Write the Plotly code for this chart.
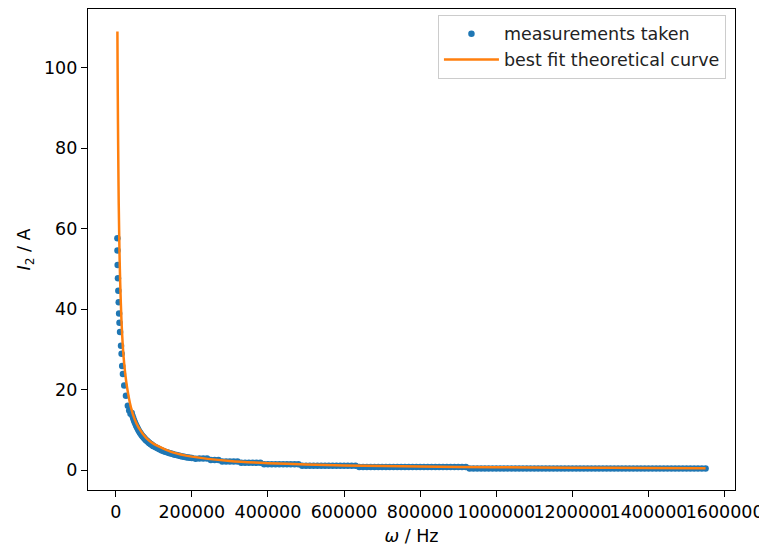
import plotly.graph_objects as go

meas_omega = [
    4500, 4700, 5200, 6000, 7000, 8000, 9000, 10000, 11500, 14000, 15500, 17000,
    19000, 22500, 27000, 32000, 35500, 39000,
    42000, 44000, 46000, 48000, 50000, 52000, 54000, 56000, 58000, 60000,
    62000, 64000, 66000, 68000, 70000, 72000, 74000, 76000, 78000, 80000,
    82000, 84000, 86000, 88000, 90000, 92000, 94000, 96000, 98000, 100000,
    105000, 110000, 115000, 120000, 125000, 130000, 135000, 140000, 145000, 150000,
    155000, 160000, 165000, 170000, 175000, 180000, 185000, 190000, 195000, 200000,
    210000, 220000, 230000, 240000, 250000, 260000, 270000, 280000, 290000, 300000,
    310000, 320000, 330000, 340000, 350000, 360000, 370000, 380000, 390000, 400000,
    410000, 420000, 430000, 440000, 450000, 460000, 470000, 480000, 490000, 500000,
    510000, 520000, 530000, 540000, 550000, 560000, 570000, 580000, 590000, 600000,
    610000, 620000, 630000, 640000, 650000, 660000, 670000, 680000, 690000, 700000,
    710000, 720000, 730000, 740000, 750000, 760000, 770000, 780000, 790000, 800000,
    810000, 820000, 830000, 840000, 850000, 860000, 870000, 880000, 890000, 900000,
    910000, 920000, 930000, 940000, 950000, 960000, 970000, 980000, 990000, 1000000,
    1010000, 1020000, 1030000, 1040000, 1050000, 1060000, 1070000, 1080000, 1090000, 1100000,
    1110000, 1120000, 1130000, 1140000, 1150000, 1160000, 1170000, 1180000, 1190000, 1200000,
    1210000, 1220000, 1230000, 1240000, 1250000, 1260000, 1270000, 1280000, 1290000, 1300000,
    1310000, 1320000, 1330000, 1340000, 1350000, 1360000, 1370000, 1380000, 1390000, 1400000,
    1410000, 1420000, 1430000, 1440000, 1450000, 1460000, 1470000, 1480000, 1490000, 1500000,
    1510000, 1520000, 1530000, 1540000, 1550000,
]
meas_current = [
    57.6, 54.6, 51.0, 47.7, 44.6, 41.7, 38.9, 36.6, 34.3, 30.9, 28.9, 25.9,
    23.9, 21.0, 18.5, 16.0, 14.8, 14.0,
    14.17, 13.52, 12.93, 12.40, 11.90, 11.44, 11.02, 10.63, 10.26, 9.92,
    9.60, 9.30, 9.02, 8.75, 8.50, 8.26, 8.04, 7.83, 7.63, 7.44,
    7.26, 7.08, 6.92, 6.76, 6.61, 6.47, 6.33, 6.20, 6.07, 5.95,
    5.67, 5.41, 5.17, 4.96, 4.76, 4.58, 4.41, 4.25, 4.10, 3.97,
    3.84, 3.72, 3.61, 3.50, 3.40, 3.31, 3.22, 3.13, 3.05, 2.98,
    2.83, 2.86, 2.86, 2.86, 2.50, 2.50, 2.50, 2.15, 2.15, 2.15,
    2.15, 2.15, 1.80, 1.80, 1.80, 1.80, 1.80, 1.80, 1.45, 1.45,
    1.45, 1.45, 1.45, 1.45, 1.45, 1.45, 1.45, 1.45, 1.10, 1.10,
    1.10, 1.10, 1.10, 1.10, 1.10, 1.10, 1.10, 1.10, 1.10, 1.10,
    1.10, 1.10, 1.10, 0.75, 0.75, 0.75, 0.75, 0.75, 0.75, 0.75,
    0.75, 0.75, 0.75, 0.75, 0.75, 0.75, 0.75, 0.75, 0.75, 0.75,
    0.75, 0.75, 0.75, 0.75, 0.75, 0.75, 0.75, 0.75, 0.75, 0.75,
    0.75, 0.75, 0.42, 0.42, 0.42, 0.42, 0.42, 0.42, 0.42, 0.42,
    0.42, 0.42, 0.42, 0.42, 0.42, 0.42, 0.42, 0.42, 0.42, 0.42,
    0.42, 0.42, 0.42, 0.42, 0.42, 0.42, 0.42, 0.42, 0.42, 0.42,
    0.42, 0.42, 0.42, 0.42, 0.42, 0.42, 0.42, 0.42, 0.42, 0.42,
    0.42, 0.42, 0.42, 0.42, 0.42, 0.42, 0.42, 0.42, 0.42, 0.42,
    0.42, 0.42, 0.42, 0.42, 0.42, 0.42, 0.42, 0.42, 0.42, 0.42,
    0.42, 0.42, 0.42, 0.42, 0.42,
]

# ---- best fit theoretical curve ----
fit_omega = [4500, 5000, 6000, 7000, 8000, 10000, 12000, 15000, 20000, 25000,
             30000, 40000, 50000, 60000, 80000, 100000, 150000, 200000, 300000,
             400000, 500000, 600000, 800000, 1000000, 1200000, 1400000, 1550000]
fit_current = [109.0, 100.0, 86.0, 75.0, 66.0, 54.0, 46.0, 37.5, 29.0, 24.0,
               20.5, 15.6, 12.6, 10.6, 8.0, 6.5, 4.4, 3.35, 2.27,
               1.72, 1.39, 1.16, 0.88, 0.71, 0.60, 0.51, 0.47]

x_ticks = [0, 200000, 400000, 600000, 800000, 1000000, 1200000, 1400000, 1600000]
y_ticks = [0, 20, 40, 60, 80, 100]

FONT = "DejaVu Sans"
FS = 17.5

fig = go.Figure()
fig.add_trace(go.Scatter(
    x=meas_omega, y=meas_current, mode="markers", name="measurements taken",
    marker=dict(color="#1f77b4", size=6.5, line=dict(width=0)),
))
fig.add_trace(go.Scatter(
    x=fit_omega, y=fit_current, mode="lines", name="best fit theoretical curve",
    line=dict(color="#ff7f0e", width=2.5, shape="spline", smoothing=0.6),
))

axis_common = dict(
    showline=True, linecolor="black", linewidth=1.3, mirror=True,
    ticks="outside", ticklen=6, tickwidth=1.3, tickcolor="black",
    showgrid=False, zeroline=False, automargin=False, tickangle=0,
    tickfont=dict(family=FONT, size=FS, color="black"),
)

fig.update_layout(
    width=759, height=539,
    margin=dict(l=80, r=32, t=1, b=57),
    paper_bgcolor="white", plot_bgcolor="white",
    font=dict(family=FONT, size=FS, color="black"),
    showlegend=True,
    legend=dict(
        x=0.986, y=0.988, xanchor="right", yanchor="top",
        bgcolor="rgba(255,255,255,0.8)", bordercolor="#cccccc", borderwidth=1,
        font=dict(family=FONT, size=FS, color="#222222"),
        tracegroupgap=0, itemwidth=55,
    ),
    xaxis=dict(
        range=[-72775, 1627275], tickvals=x_ticks,
        ticktext=[str(v) for v in x_ticks],
        title=dict(text="<i>ω</i> / Hz", standoff=8,
                   font=dict(family=FONT, size=FS, color="black")),
        **axis_common,
    ),
    yaxis=dict(
        range=[-4.95, 114.6], tickvals=y_ticks,
        ticktext=[str(v) for v in y_ticks],
        title=dict(text="<i>I</i><sub>2</sub> / A", standoff=8,
                   font=dict(family=FONT, size=FS, color="black")),
        **axis_common,
    ),
)

fig.write_html("out.html")
